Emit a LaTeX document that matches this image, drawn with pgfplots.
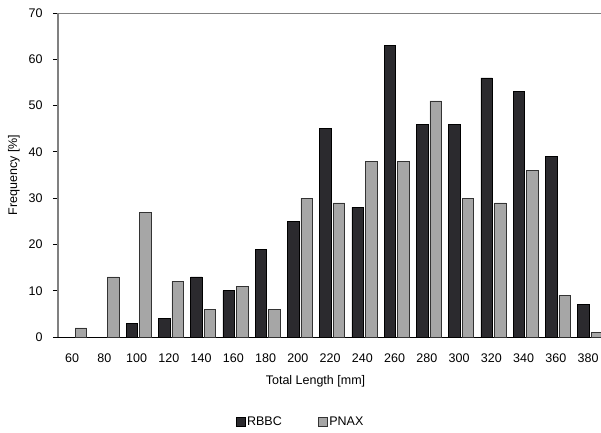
\documentclass[border=0pt]{standalone}
\usepackage{pgfplots}
\pgfplotsset{compat=1.18}
\usepackage{fontspec}
\setmainfont{Liberation Sans}
\definecolor{darkbar}{HTML}{2B2A2E}
\definecolor{graybar}{HTML}{A6A6A6}
\definecolor{axisgray}{HTML}{808080}
\newcommand{\chartfont}{\fontsize{12.5}{15}\selectfont}
\begin{document}
\begin{tikzpicture}
\begin{axis}[
  at={(0,0)}, anchor=south west,
  scale only axis, width=543pt, height=324pt,
  xmin=-0.5, xmax=16.34, ymin=0, ymax=70,
  ybar=2pt, bar width=11.5pt,
  axis x line*=bottom, axis y line*=left,
  x axis line style={black, line width=0.8pt, -},
  y axis line style={axisgray, line width=1.4pt, -},
  xtick={0,...,16},
  xticklabels={60,80,100,120,140,160,180,200,220,240,260,280,300,320,340,360,380},
  xtick style={draw=none},
  xticklabel style={yshift=-8pt, xshift=-2pt},
  ytick={0,10,...,70},
  ytick style={black, line width=0.8pt},
  tick align=outside, major tick length=5pt,
  yticklabel style={xshift=-7pt},
  /pgf/number format/assume math mode=true,
  tick label style={font=\chartfont},
  label style={font=\chartfont},
  xlabel={Total Length [mm]},
  xlabel style={yshift=-6pt, xshift=-14pt},
  ylabel={Frequency [\%]},
  ylabel style={yshift=2pt},
  legend columns=2,
  legend style={draw=none, font=\chartfont, at={(0.4466,-0.262)}, anchor=center,
    /tikz/every even column/.append style={column sep=34pt}},
  legend image code/.code={\draw[#1, line width=0.5pt] (0pt,-4.5pt) rectangle (9pt,4.5pt);},
]
\addplot[draw=black, line width=0.5pt, fill=darkbar] coordinates {
(0,0) (1,0) (2,3) (3,4) (4,13) (5,10) (6,19) (7,25) (8,45)
(9,28) (10,63) (11,46) (12,46) (13,56) (14,53) (15,39) (16,7)
};
\addplot[draw=black!80, line width=0.5pt, fill=graybar] coordinates {
(0,2) (1,13) (2,27) (3,12) (4,6) (5,11) (6,6) (7,30) (8,29)
(9,38) (10,38) (11,51) (12,30) (13,29) (14,36) (15,9) (16,1)
};
\legend{RBBC, PNAX}
\draw[axisgray, line width=1.2pt] (rel axis cs:0,1) -- (rel axis cs:1,1);
\end{axis}
\pgfresetboundingbox
\path (-58pt,-95pt) rectangle (543pt,337pt);
\end{tikzpicture}
\end{document}
